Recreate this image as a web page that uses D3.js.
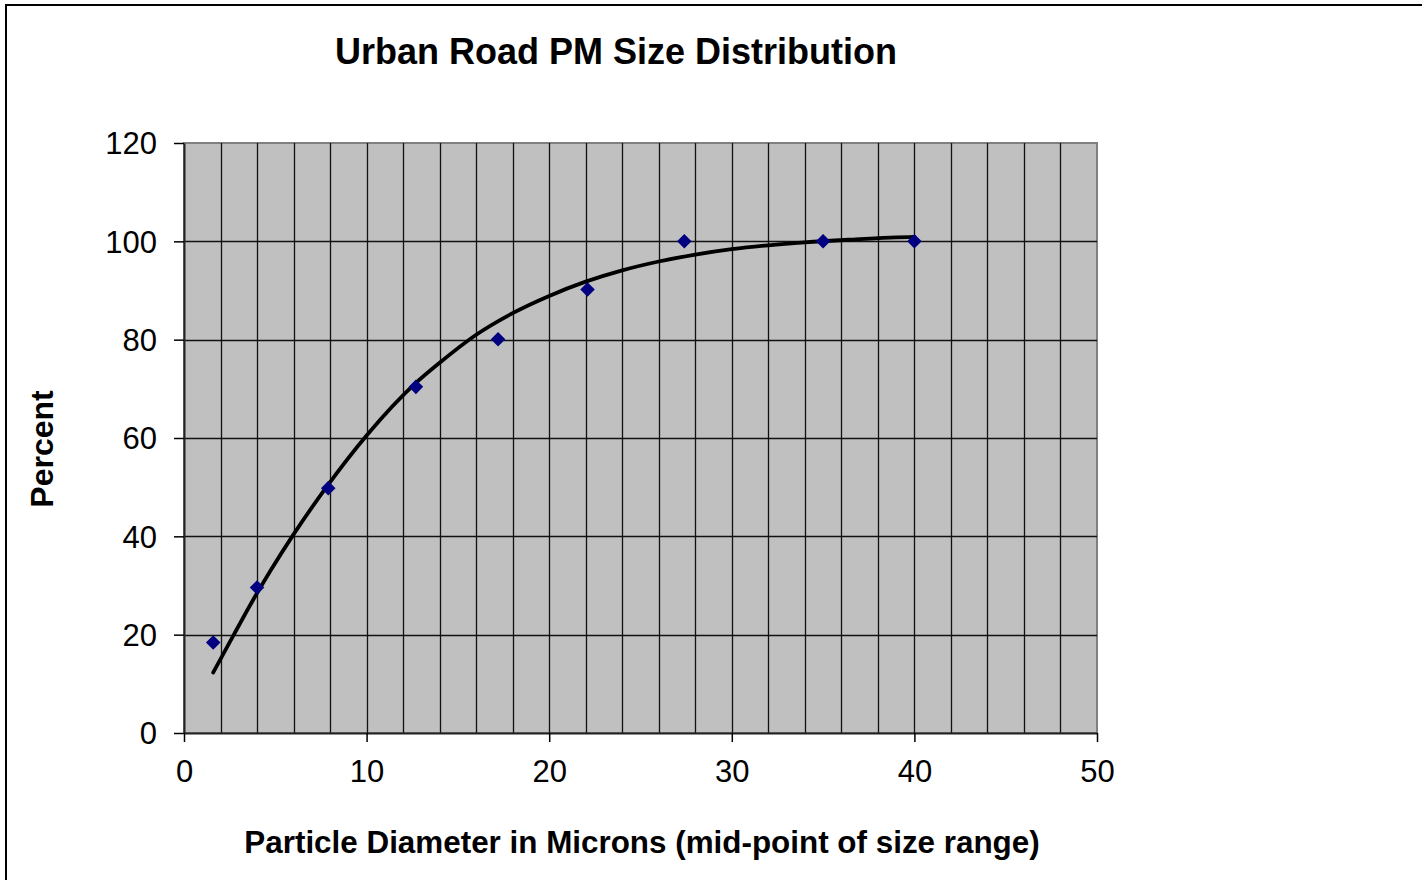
<!DOCTYPE html>
<html>
<head>
<meta charset="utf-8">
<script src="https://cdn.jsdelivr.net/npm/d3@7"></script>
<style>
  body { margin: 0; background: #fff; }
  text { font-family: "Liberation Sans", Arial, sans-serif; }
</style>
</head>
<body>
<div id="container"></div>
<script>
// measured points
var diameter = [1.6, 4, 7.9, 12.7, 17.2, 22.1, 27.4, 35, 40];
var percent = [18.4, 29.6, 49.8, 70.4, 80.1, 90.2, 100, 100, 100];

// trendline
var trendX = [1.6, 2.7, 3.9, 4.7, 6.0, 7.8, 10.0, 12.7, 14.0, 16.0, 18.0, 20.0, 22.0, 24.0, 26.0, 28.0, 30.0, 32.0, 34.0, 36.8, 39.0, 40.0];
var trendY = [12.3, 19.8, 27.8, 32.8, 40.4, 50.0, 60.5, 71.2, 75.3, 81.0, 85.4, 88.9, 91.8, 94.1, 95.9, 97.3, 98.4, 99.2, 99.8, 100.4, 100.8, 100.9];

var xTicks = [0, 10, 20, 30, 40, 50];
var yTicks = [0, 20, 40, 60, 80, 100, 120];

var width = 1422, height = 880;
var plotL = 184, plotR = 1097, plotT = 143, plotB = 733;

var svg = d3.select("#container").append("svg")
    .attr("width", width)
    .attr("height", height);

// outer chart frame (runs off the picture right and bottom)
svg.append("rect")
    .attr("x", 6).attr("y", 5)
    .attr("width", 1430).attr("height", 890)
    .attr("fill", "#fff")
    .attr("stroke", "#000")
    .attr("stroke-width", 2);

var x = d3.scaleLinear().domain([0, 50]).range([plotL, plotR]);
var y = d3.scaleLinear().domain([0, 120]).range([plotB, plotT]);

svg.append("rect")
    .attr("x", plotL).attr("y", plotT)
    .attr("width", plotR - plotL).attr("height", plotB - plotT)
    .attr("fill", "#c0c0c0")
    .attr("stroke", "#808080")
    .attr("stroke-width", 2);

// vertical grid every 2 microns
var g = svg.append("g");
g.selectAll("line.vg")
    .data(d3.range(2, 50, 2))
    .enter().append("line")
      .attr("class", "vg")
      .attr("x1", (d) => Math.round(x(d)) + 0.5)
      .attr("x2", (d) => Math.round(x(d)) + 0.5)
      .attr("y1", plotT).attr("y2", plotB)
      .attr("stroke", "#111").attr("stroke-width", 1.3);

g.selectAll("line.hg")
    .data(yTicks.slice(1, -1))
    .enter().append("line")
      .attr("class", "hg")
      .attr("y1", (d) => Math.round(y(d)) + 0.5)
      .attr("y2", (d) => Math.round(y(d)) + 0.5)
      .attr("x1", plotL).attr("x2", plotR)
      .attr("stroke", "#111").attr("stroke-width", 1.3);

// axes
var xAxis = svg.append("g")
    .attr("transform", "translate(0," + plotB + ")")
    .call(d3.axisBottom(x).tickValues(xTicks).tickSize(9).tickPadding(18).tickSizeOuter(0));
var yAxis = svg.append("g")
    .attr("transform", "translate(" + plotL + ",0)")
    .call(d3.axisLeft(y).tickValues(yTicks).tickSize(10).tickPadding(17).tickSizeOuter(0));

[xAxis, yAxis].forEach(function(a) {
  a.select(".domain").attr("stroke", "#222").attr("stroke-width", 2);
  a.selectAll(".tick line").attr("stroke", "#000").attr("stroke-width", 1.5);
  a.selectAll(".tick text")
      .attr("font-family", "Liberation Sans, Arial, sans-serif")
      .attr("font-size", 31)
      .attr("fill", "#000");
});
yAxis.selectAll(".tick text").attr("dy", "0.35em");

// trendline
var line = d3.line()
    .x((d) => x(d[0]))
    .y((d) => y(d[1]))
    .curve(d3.curveMonotoneX);

svg.append("path")
    .datum(d3.zip(trendX, trendY))
    .attr("d", line)
    .attr("fill", "none")
    .attr("stroke", "#000")
    .attr("stroke-width", 3.8)
    .attr("stroke-linecap", "round");

// diamond markers
svg.append("g").selectAll("path")
    .data(d3.zip(diameter, percent))
    .enter().append("path")
      .attr("d", d3.symbol().type(d3.symbolDiamond2).size(135))
      .attr("transform", (d) => "translate(" + x(d[0]) + "," + y(d[1]) + ")")
      .attr("fill", "#000080");

// titles
svg.append("text")
    .attr("x", 616).attr("y", 64)
    .attr("text-anchor", "middle")
    .attr("font-size", 36).attr("font-weight", "bold")
    .text("Urban Road PM Size Distribution");

svg.append("text")
    .attr("x", 642).attr("y", 853)
    .attr("text-anchor", "middle")
    .attr("font-size", 31.4).attr("font-weight", "bold")
    .text("Particle Diameter in Microns (mid-point of size range)");

svg.append("text")
    .attr("transform", "translate(53,449) rotate(-90)")
    .attr("text-anchor", "middle")
    .attr("font-size", 32).attr("font-weight", "bold")
    .text("Percent");
</script>
</body>
</html>
